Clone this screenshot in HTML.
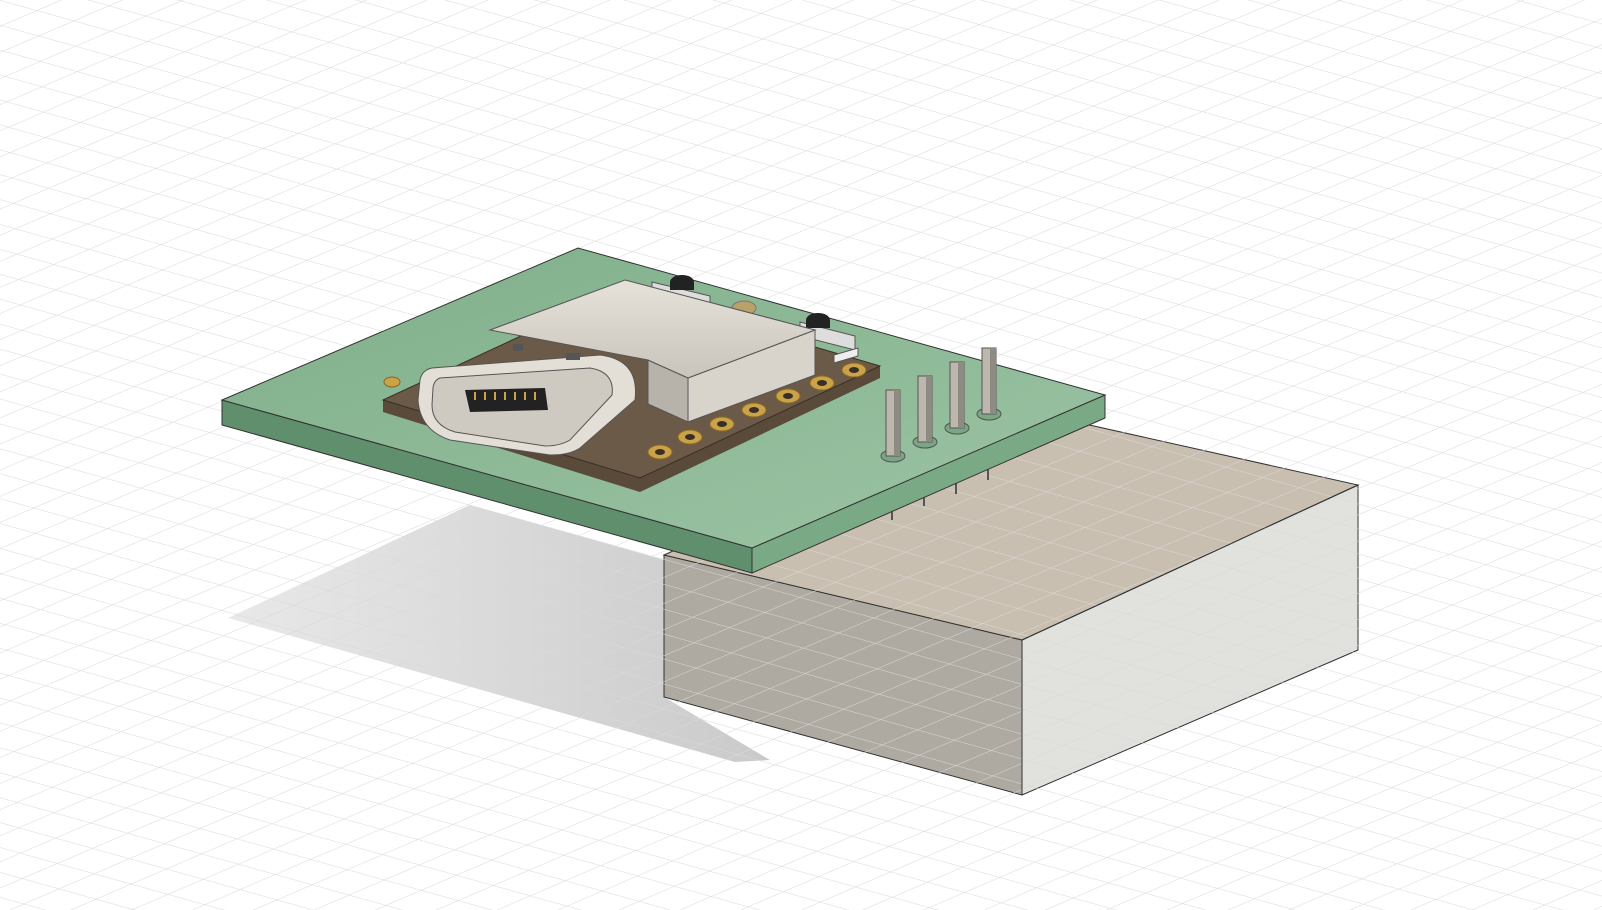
<!DOCTYPE html>
<html><head><meta charset="utf-8"><style>
html,body{margin:0;padding:0;background:#fff;}
svg{display:block;}
</style></head><body>
<svg width="1602" height="910" viewBox="0 0 1602 910" xmlns="http://www.w3.org/2000/svg">
<defs>
<pattern id="g1" width="1602" height="24" patternUnits="userSpaceOnUse" patternTransform="rotate(15.6)">
<line x1="0" y1="0" x2="1602" y2="0" stroke="#d9d9d9" stroke-width="1"/>
</pattern>
<pattern id="g2" width="1602" height="24" patternUnits="userSpaceOnUse" patternTransform="rotate(-23.2)">
<line x1="0" y1="0" x2="1602" y2="0" stroke="#d9d9d9" stroke-width="1"/>
</pattern>
<linearGradient id="pcb" x1="0" y1="0" x2="1" y2="1">
<stop offset="0" stop-color="#7fae8a"/><stop offset="1" stop-color="#9cc4a4"/>
</linearGradient>
<linearGradient id="sh" x1="0" y1="0" x2="1" y2="0">
<stop offset="0" stop-color="#e6e6e6"/><stop offset="1" stop-color="#c4c4c4"/>
</linearGradient>
<linearGradient id="usb" x1="0" y1="0" x2="0" y2="1">
<stop offset="0" stop-color="#e6e2da"/><stop offset="1" stop-color="#c9c4bb"/>
</linearGradient>
</defs>
<rect width="1602" height="910" fill="#fff"/>
<!-- shadow -->
<polygon points="228,618 470,505 664,560 664,697 770,760 735,762" fill="url(#sh)" opacity="0.9"/>
<!-- box -->
<polygon points="664,555 1022,640 1022,795 664,697" fill="#a09b92" fill-opacity="0.85" stroke="#333" stroke-width="1"/>
<polygon points="1022,640 1358,485 1358,650 1022,795" fill="#dcdcd8" fill-opacity="0.85" stroke="#333" stroke-width="1"/>
<polygon points="664,555 1000,405 1358,485 1022,640" fill="#bfb4a2" fill-opacity="0.85" stroke="#333" stroke-width="1"/>
<rect width="1602" height="910" fill="url(#g1)"/>
<rect width="1602" height="910" fill="url(#g2)"/>
<line x1="1022" y1="640" x2="1022" y2="795" stroke="#333"/>
<line x1="1022" y1="640" x2="1358" y2="485" stroke="#333"/>
<!-- pin tails under pcb -->
<g stroke="#555" stroke-width="2"><line x1="892" y1="500" x2="892" y2="520"/><line x1="924" y1="488" x2="924" y2="506"/><line x1="956" y1="476" x2="956" y2="494"/><line x1="988" y1="464" x2="988" y2="480"/></g>
<!-- PCB -->
<polygon points="222,400 222,425 752,573 752,548" fill="#5f8f6c" stroke="#333" stroke-width="1"/>
<polygon points="752,548 752,573 1105,418 1105,395" fill="#7aaa85" stroke="#333" stroke-width="1"/>
<polygon points="222,400 578,248 1105,395 752,548" fill="url(#pcb)" stroke="#333" stroke-width="1"/>
<!-- xiao module -->
<polygon points="383,400 383,412 640,492 880,378 880,366 640,478" fill="#5a4a3a"/>
<polygon points="383,400 620,290 880,366 640,478" fill="#6b5a48" stroke="#3a2f25" stroke-width="1"/>
<g fill="#c9a24a" stroke="#8a6a20" stroke-width="1">
<ellipse cx="392" cy="382" rx="8" ry="5"/>
<ellipse cx="690" cy="437" rx="12" ry="7"/><ellipse cx="722" cy="424" rx="12" ry="7"/>
<ellipse cx="754" cy="410" rx="12" ry="7"/><ellipse cx="788" cy="396" rx="12" ry="7"/>
<ellipse cx="822" cy="383" rx="12" ry="7"/><ellipse cx="854" cy="370" rx="12" ry="7"/>
<ellipse cx="660" cy="452" rx="12" ry="7"/>
</g>
<g fill="#3a2f25">
<ellipse cx="690" cy="437" rx="5" ry="3"/><ellipse cx="722" cy="424" rx="5" ry="3"/>
<ellipse cx="754" cy="410" rx="5" ry="3"/><ellipse cx="788" cy="396" rx="5" ry="3"/>
<ellipse cx="822" cy="383" rx="5" ry="3"/><ellipse cx="854" cy="370" rx="5" ry="3"/>
<ellipse cx="660" cy="452" rx="5" ry="3"/>
</g>
<!-- buttons -->
<polygon points="652,282 710,296 710,310 652,296" fill="#ddd" stroke="#555"/>
<ellipse cx="682" cy="282" rx="12" ry="7" fill="#222"/>
<rect x="670" y="282" width="24" height="8" fill="#222"/>
<polygon points="800,322 855,336 855,350 800,336" fill="#ddd" stroke="#555"/>
<ellipse cx="818" cy="320" rx="12" ry="7" fill="#222"/>
<rect x="806" y="320" width="24" height="8" fill="#222"/>
<ellipse cx="744" cy="308" rx="12" ry="7" fill="#b9a16a" stroke="#777"/>
<polygon points="834,355 858,348 858,356 834,363" fill="#eee" stroke="#555"/>
<!-- USB-C shell -->
<polygon points="648,360 688,378 688,422 648,404" fill="#b8b3aa" stroke="#555"/>
<polygon points="688,378 815,330 815,375 688,422" fill="#d8d4cc" stroke="#555"/>
<polygon points="490,330 625,280 815,330 688,378 648,360" fill="url(#usb)" stroke="#555"/>
<path d="M432,368 L600,355 Q640,360 635,400 L580,448 Q570,455 550,455 L450,440 Q420,430 418,400 L420,380 Q422,370 432,368 Z" fill="#e3dfd7" stroke="#555"/>
<path d="M440,378 L590,368 Q615,372 612,395 L570,440 Q560,446 545,446 L455,432 Q432,425 432,405 L433,388 Q434,380 440,378 Z" fill="#cfcac1" stroke="#555"/>
<path d="M465,390 L545,388 L548,410 L470,412 Z" fill="#222"/>
<g stroke="#c9a24a" stroke-width="2"><line x1="475" y1="392" x2="475" y2="400"/><line x1="485" y1="392" x2="485" y2="400"/><line x1="495" y1="392" x2="495" y2="400"/><line x1="505" y1="392" x2="505" y2="400"/><line x1="515" y1="392" x2="515" y2="400"/><line x1="525" y1="392" x2="525" y2="400"/><line x1="535" y1="392" x2="535" y2="400"/></g>
<rect x="513" y="344" width="10" height="7" fill="#555"/><rect x="566" y="353" width="14" height="7" fill="#555"/>
<!-- header pins -->
<g stroke="#555" stroke-width="1">
<ellipse cx="893" cy="456" rx="12" ry="6" fill="#7aa685"/>
<ellipse cx="925" cy="442" rx="12" ry="6" fill="#7aa685"/>
<ellipse cx="957" cy="428" rx="12" ry="6" fill="#7aa685"/>
<ellipse cx="989" cy="414" rx="12" ry="6" fill="#7aa685"/>
<rect x="886" y="390" width="14" height="66" fill="#bdb7ad"/>
<rect x="918" y="376" width="14" height="66" fill="#bdb7ad"/>
<rect x="950" y="362" width="14" height="66" fill="#bdb7ad"/>
<rect x="982" y="348" width="14" height="66" fill="#bdb7ad"/>
</g>
<g fill="#8f8a82"><rect x="894" y="390" width="6" height="66"/><rect x="926" y="376" width="6" height="66"/><rect x="958" y="362" width="6" height="66"/><rect x="990" y="348" width="6" height="66"/></g>
</svg>
</body></html>
